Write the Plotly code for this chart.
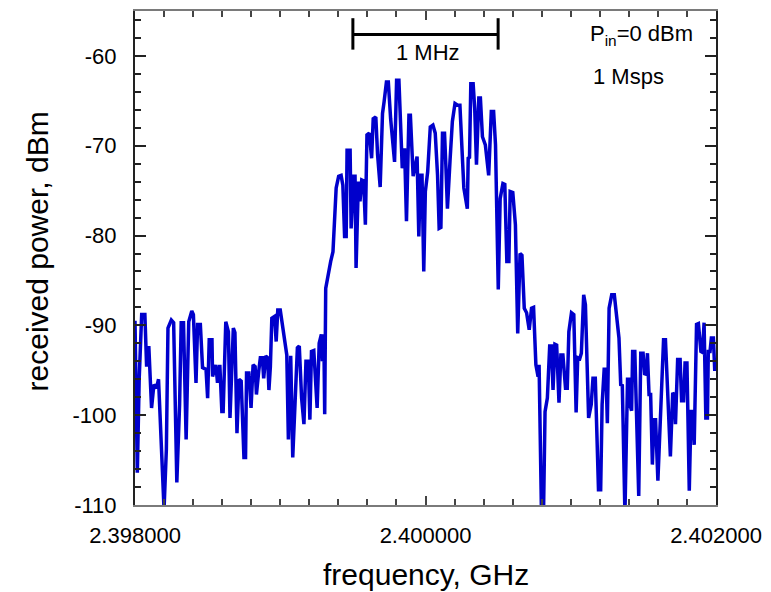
import numpy as np
import plotly.graph_objects as go

# Spectrum trace: frequency offset from 2.398 GHz (kHz) and received power (dBm)
freq_offset_khz = [
    0, 16, 29, 46, 68, 80, 95, 114, 130, 148, 162, 200, 216, 227, 250, 266,
    288, 307, 318, 334, 352, 370, 391, 402, 420, 431, 450, 465, 489, 500,
    511, 530, 534, 557, 568, 584, 598, 607, 625, 643, 654, 677, 688, 702,
    716, 731, 750, 761, 768, 784, 799, 813, 827, 836, 852, 863, 877, 886,
    900, 913, 922, 932, 942, 954, 961, 972, 983, 1000, 1017, 1034, 1045,
    1056, 1072, 1086, 1102, 1118, 1131, 1147, 1163, 1177, 1193, 1204, 1215,
    1231, 1254, 1268, 1283, 1290, 1300, 1306, 1313, 1329, 1347, 1363, 1374,
    1385, 1402, 1419, 1431, 1443, 1454, 1460, 1481, 1488, 1506, 1515, 1522,
    1538, 1549, 1561, 1574, 1586, 1597, 1613, 1629, 1640, 1658, 1670, 1688,
    1704, 1715, 1731, 1744, 1760, 1787, 1801, 1817, 1828, 1840, 1856, 1869,
    1886, 1896, 1915, 1931, 1942, 1954, 1965, 1976, 1988, 1999, 2015, 2033,
    2051, 2067, 2083, 2094, 2106, 2117, 2131, 2140, 2151, 2169, 2185, 2203,
    2221, 2237, 2249, 2264, 2288, 2294, 2303, 2312, 2328, 2339, 2351, 2367,
    2378, 2392, 2412, 2435, 2453, 2469, 2482, 2492, 2501, 2514, 2533, 2546,
    2560, 2574, 2583, 2601, 2619, 2635, 2651, 2664, 2680, 2696, 2714, 2730,
    2744, 2760, 2775, 2782, 2799, 2812, 2823, 2839, 2855, 2867, 2878, 2891,
    2903, 2919, 2932, 2946, 2964, 2976, 2987, 3005, 3021, 3037, 3048, 3062,
    3073, 3089, 3101, 3123, 3141, 3153, 3169, 3191, 3206, 3216, 3230, 3242,
    3252, 3264, 3282, 3300, 3317, 3332, 3344, 3355, 3373, 3385, 3391, 3402,
    3407, 3419, 3426, 3441, 3460, 3468, 3482, 3498, 3509, 3521, 3528, 3539,
    3550, 3562, 3573, 3584, 3600, 3623, 3639, 3652, 3668, 3686, 3702, 3714,
    3721, 3736, 3753, 3763, 3777, 3787, 3800, 3816, 3828, 3838, 3850, 3866,
    3879, 3896, 3907, 3918, 3930, 3941, 3947, 3959, 3968, 3982, 3991, 4000,
]

power_dbm = [
    -89.5, -106.4, -95.9, -88.8, -88.8, -94.6, -92.3, -99.2, -96.6, -97.0,
    -96.0, -110.5, -103.8, -90.3, -89.4, -89.7, -107.5, -98.8, -89.7, -89.7,
    -102.7, -89.6, -88.4, -88.8, -96.4, -89.9, -89.9, -94.7, -94.9, -98.1,
    -91.6, -91.6, -95.7, -94.4, -96.4, -94.4, -99.6, -99.6, -89.6, -90.7,
    -100.3, -90.3, -90.8, -102.0, -96.0, -96.2, -104.7, -104.7, -95.3, -95.3,
    -99.2, -94.4, -94.6, -97.7, -95.1, -93.6, -93.6, -95.9, -93.4, -93.6,
    -97.2, -94.6, -89.2, -89.0, -89.0, -91.8, -88.3, -88.3, -90.3, -92.7,
    -93.3, -102.7, -93.4, -104.7, -98.8, -92.5, -92.3, -98.1, -101.0, -94.0,
    -94.0, -100.5, -92.9, -92.8, -99.2, -92.0, -91.0, -94.0, -91.0, -99.9,
    -85.9, -84.4, -82.9, -81.8, -78.1, -74.7, -73.4, -73.3, -74.4, -80.1,
    -80.1, -70.5, -70.5, -79.2, -73.4, -73.4, -83.6, -74.0, -76.2, -73.8,
    -73.9, -78.8, -68.8, -68.6, -71.4, -67.0, -66.8, -71.0, -74.6, -66.4,
    -65.1, -62.9, -62.9, -67.0, -71.8, -62.7, -62.7, -66.6, -72.5, -70.3,
    -78.4, -66.6, -66.6, -73.4, -72.1, -71.2, -80.1, -73.3, -73.3, -84.0,
    -75.1, -72.9, -67.9, -67.7, -68.6, -73.3, -79.2, -79.1, -68.6, -68.6,
    -72.1, -77.0, -71.6, -67.3, -65.3, -65.5, -65.5, -69.6, -74.7, -77.0,
    -71.4, -71.3, -63.1, -63.1, -65.9, -72.1, -64.7, -64.7, -69.0, -69.9,
    -73.3, -66.2, -66.2, -69.9, -76.6, -86.0, -75.9, -74.2, -74.3, -82.9,
    -82.9, -75.1, -75.2, -78.8, -90.9, -82.0, -82.2, -88.1, -88.6, -90.5,
    -88.1, -88.0, -94.4, -95.7, -94.4, -111.5, -111.5, -99.6, -98.1, -92.3,
    -92.3, -97.2, -92.1, -92.2, -98.6, -93.3, -93.3, -97.0, -97.0, -90.7,
    -88.6, -88.8, -99.7, -93.6, -93.7, -93.1, -86.6, -87.7, -100.3, -98.8,
    -95.9, -95.9, -108.3, -108.3, -98.8, -94.9, -94.9, -100.9, -88.1, -86.6,
    -86.6, -89.2, -91.4, -96.6, -96.7, -111.0, -103.3, -96.0, -96.0, -98.8,
    -99.5, -92.9, -92.9, -106.2, -109.0, -93.1, -93.1, -95.5, -95.3, -93.1,
    -97.7, -97.7, -105.5, -100.5, -100.5, -107.3, -97.3, -91.6, -91.6, -97.0,
    -104.6, -97.5, -97.8, -101.0, -93.8, -93.8, -98.4, -98.4, -94.2, -94.2,
    -108.4, -99.6, -99.6, -103.3, -89.9, -89.8, -92.9, -93.0, -89.7, -100.3,
    -100.3, -92.9, -92.9, -91.4, -91.4, -94.9, -94.9,
]

x_tick_vals = [2.398, 2.400, 2.402]
x_tick_text = ["2.398000", "2.400000", "2.402000"]
y_tick_vals = [-60, -70, -80, -90, -100, -110]
y_tick_text = ["-60", "-70", "-80", "-90", "-100", "-110"]

freq_ghz = 2.398 + np.array(freq_offset_khz) / 1e6

FONT = "Arial, Liberation Sans, sans-serif"

fig = go.Figure()
fig.add_trace(go.Scatter(
    x=freq_ghz, y=power_dbm, mode="lines",
    line=dict(color="#0000cc", width=3.5),
    showlegend=False,
))

# 1 MHz scale bar
bar_x0, bar_x1 = 2.39950, 2.40050
bar_y, cap_top, cap_bot = -57.63, -55.8, -59.3
line_style = dict(color="black", width=3)
fig.add_shape(type="line", x0=bar_x0, x1=bar_x1, y0=bar_y, y1=bar_y, line=line_style)
fig.add_shape(type="line", x0=bar_x0, x1=bar_x0, y0=cap_top, y1=cap_bot, line=line_style)
fig.add_shape(type="line", x0=bar_x1, x1=bar_x1, y0=cap_top, y1=cap_bot, line=line_style)

fig.add_annotation(x=2.40002, y=-59.6, text="1 MHz", showarrow=False,
                   xanchor="center", yanchor="middle",
                   font=dict(family=FONT, size=22, color="black"))
fig.add_annotation(x=2.40112, y=-57.7, text="P<sub>in</sub>=0 dBm", showarrow=False,
                   xanchor="left", yanchor="middle",
                   font=dict(family=FONT, size=22, color="black"))
fig.add_annotation(x=2.40114, y=-62.27, text="1 Msps", showarrow=False,
                   xanchor="left", yanchor="middle",
                   font=dict(family=FONT, size=22, color="black"))

# Axis titles
fig.add_annotation(xref="paper", yref="paper", x=0.501, y=-0.14,
                   text="frequency, GHz", showarrow=False,
                   xanchor="center", yanchor="middle",
                   font=dict(family=FONT, size=30, color="black"))
fig.add_annotation(xref="paper", yref="paper", x=-0.168, y=0.514,
                   text="received power, dBm", showarrow=False, textangle=-90,
                   xanchor="center", yanchor="middle",
                   font=dict(family=FONT, size=30, color="black"))

fig.update_xaxes(
    range=[2.398, 2.402],
    tickvals=x_tick_vals, ticktext=x_tick_text,
    ticks="inside", ticklen=9, tickwidth=1.5, tickcolor="#444",
    minor=dict(dtick=0.0002, tick0=2.398, ticks="inside", ticklen=6,
               tickwidth=1.5, tickcolor="#444"),
    showline=True, linecolor="#7a7a7a", linewidth=2, mirror="allticks",
    showgrid=False, zeroline=False,
    tickfont=dict(family=FONT, size=22, color="black"),
    ticklabelstandoff=10,
)
fig.update_yaxes(
    range=[-110, -55],
    tickvals=y_tick_vals, ticktext=y_tick_text,
    ticks="inside", ticklen=11, tickwidth=1.5, tickcolor="#222",
    minor=dict(dtick=2, tick0=-110, ticks="inside", ticklen=6,
               tickwidth=1.5, tickcolor="#222"),
    showline=True, linecolor="#222", linewidth=2, mirror="allticks",
    showgrid=False, zeroline=False,
    tickfont=dict(family=FONT, size=22, color="black"),
    ticklabelstandoff=12,
)

fig.update_layout(
    width=771, height=592,
    margin=dict(l=135, r=49, t=9, b=87),
    plot_bgcolor="white", paper_bgcolor="white",
    font=dict(family=FONT),
)

fig.write_html("out.html")
